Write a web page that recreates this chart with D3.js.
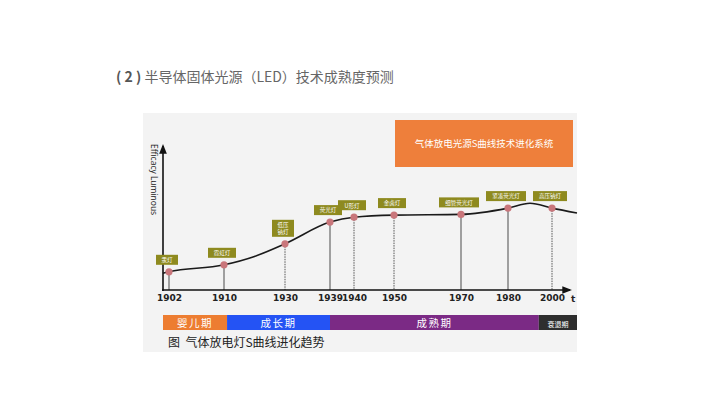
<!DOCTYPE html>
<html>
<head>
<meta charset="utf-8">
<script src="https://cdn.jsdelivr.net/npm/d3@7"></script>
<style>
  body { margin: 0; background: #fff; }
  svg { font-family: "Noto Sans CJK SC", "Noto Sans", sans-serif; }
</style>
</head>
<body>
<svg id="chart"></svg>
<script>
// milestone lamps
const years = [1902, 1910, 1930, 1939, 1940, 1950, 1970, 1980, 2000];
const lamps = ["汞灯", "霓虹灯", "低压\n钠灯", "荧光灯", "U形灯", "金卤灯", "细管荧光灯", "紧凑荧光灯", "高压钠灯"];
const efficacy = [13, 18, 33, 48.5, 52, 53.5, 54, 58.5, 58.5];
const dotted = [false, false, true, false, true, true, false, false, true];

// whole S curve (includes points outside the milestones)
const curveYears = [1900, 1902, 1910, 1920, 1930, 1939, 1940, 1950, 1970, 1980, 1990, 2000, 2006];
const curveVals = [12, 13, 18, 24, 33, 48.5, 52, 53.5, 54, 58.5, 62, 58.5, 55];

const phases = ["婴儿期", "成长期", "成熟期", "衰退期"];
const phaseStart = [1900, 1911, 1939, 1994];
const phaseEnd = [1911, 1939, 1994, 2006];
const phaseColors = ["#ed7d31", "#2453f4", "#7b2a85", "#2e2e2e"];

const w = 720, h = 405;
const svg = d3.select("#chart").attr("width", w).attr("height", h);

// title
const title = svg.append("text").attr("x", 116).attr("y", 82).attr("font-size", 14).attr("fill", "#666");
title.append("tspan").attr("font-weight", "bold").attr("fill", "#555").text("( 2 ) ");
title.append("tspan").text("半导体固体光源（LED）技术成熟度预测");

// panel
svg.append("rect").attr("x", 143).attr("y", 113).attr("width", 434).attr("height", 239).attr("fill", "#f3f3f3");

// orange box
svg.append("rect").attr("x", 395).attr("y", 120).attr("width", 178).attr("height", 47).attr("fill", "#ee7f3b");
svg.append("text").attr("x", 484).attr("y", 147).attr("text-anchor", "middle")
  .attr("font-size", 9.5).attr("fill", "#fff").text("气体放电光源S曲线技术进化系统");

// scales: the time axis is unevenly spaced in the original
const x = d3.scaleLinear()
  .domain([1900, 1902, 1910, 1930, 1939, 1940, 1950, 1970, 1980, 1990, 2000, 2006])
  .range([163, 169, 224, 285, 330, 354, 394, 461, 508, 530, 552, 577]);
const y = d3.scaleLinear().domain([0, 100]).range([290, 150]);

// arrows
const defs = svg.append("defs");
defs.append("marker").attr("id", "arrow").attr("viewBox", "0 0 10 10").attr("refX", 8).attr("refY", 5)
  .attr("markerWidth", 6).attr("markerHeight", 6).attr("orient", "auto")
  .append("path").attr("d", "M0,1 L10,5 L0,9 Z").attr("fill", "#111");

// vertical drop lines
svg.selectAll(".drop").data(years).enter().append("line")
  .attr("x1", d => x(d)).attr("x2", d => x(d))
  .attr("y1", (d, i) => y(efficacy[i])).attr("y2", y(0))
  .attr("stroke", (d, i) => dotted[i] ? "#555" : "#8a8a8a")
  .attr("stroke-width", (d, i) => dotted[i] ? 1 : 1.6)
  .attr("stroke-dasharray", (d, i) => dotted[i] ? "1.5,1" : null);

// axes lines
svg.append("line").attr("x1", 163).attr("x2", 163).attr("y1", y(0) + 1).attr("y2", 146)
  .attr("stroke", "#111").attr("stroke-width", 1.6).attr("marker-end", "url(#arrow)");
svg.append("line").attr("x1", 162).attr("x2", 570).attr("y1", y(0)).attr("y2", y(0))
  .attr("stroke", "#111").attr("stroke-width", 1.6).attr("marker-end", "url(#arrow)");

const xAxis = d3.axisBottom(x).tickValues(years).tickSize(0).tickPadding(5).tickFormat(d3.format("d"));
const gx = svg.append("g").attr("transform", `translate(0, ${y(0)})`).call(xAxis);
gx.select(".domain").remove();
gx.selectAll("text").attr("font-size", 9).attr("font-weight", "bold").attr("fill", "#222")
  .attr("font-family", "DejaVu Sans");
svg.append("text").attr("x", 571).attr("y", 302).attr("font-size", 9).attr("font-weight", "bold")
  .attr("fill", "#222").attr("font-family", "DejaVu Sans").text("t");

svg.append("text").attr("transform", "translate(151,144) rotate(90)")
  .attr("font-size", 8.5).attr("fill", "#222").attr("font-family", "Open Sans").text("Efficacy Luminous");

// S curve
const pts = curveYears.map((d, i) => [x(d), y(curveVals[i])]);
svg.append("path").attr("d", d3.line().curve(d3.curveMonotoneX)(pts))
  .attr("fill", "none").attr("stroke", "#1a1a1a").attr("stroke-width", 1.6);

// dots
svg.selectAll(".dot").data(years).enter().append("circle")
  .attr("cx", d => x(d)).attr("cy", (d, i) => y(efficacy[i])).attr("r", 3.6)
  .attr("fill", "#c9767b");

// label boxes
const lab = svg.selectAll(".lab").data(years).enter().append("g")
  .attr("transform", (d, i) => `translate(${x(d) - 2}, ${y(efficacy[i]) - 7})`);
lab.each(function (d, i) {
  const g = d3.select(this);
  const lines = lamps[i].split("\n");
  const bw = Math.max(22, d3.max(lines, l => l.length) * 6 + 10);
  const bh = lines.length * 7 + 3;
  g.append("rect").attr("x", -bw / 2).attr("y", -bh).attr("width", bw).attr("height", bh).attr("fill", "#8e8a1f");
  lines.forEach((l, k) => {
    g.append("text").attr("x", 0).attr("y", -bh + 7.3 + k * 7).attr("text-anchor", "middle")
      .attr("font-size", 5.5).attr("fill", "#fff").text(l);
  });
});

// phase bar
svg.selectAll(".phase").data(phases).enter().append("rect")
  .attr("x", (d, i) => x(phaseStart[i])).attr("y", 315)
  .attr("width", (d, i) => x(phaseEnd[i]) - x(phaseStart[i])).attr("height", 15)
  .attr("fill", (d, i) => phaseColors[i]);
svg.selectAll(".phaseText").data(phases).enter().append("text")
  .attr("x", (d, i) => (x(phaseStart[i]) + x(phaseEnd[i])) / 2).attr("y", 326.5)
  .attr("text-anchor", "middle").attr("fill", "#fff")
  .attr("font-size", (d, i) => i === 3 ? 7 : 10.5).attr("letter-spacing", (d, i) => i === 3 ? 0 : 1.5)
  .text(d => d);

// caption
svg.append("text").attr("x", 168).attr("y", 347).attr("font-size", 12).attr("fill", "#222")
  .text("图\u00a0\u00a0气体放电灯S曲线进化趋势");
</script>
</body>
</html>
